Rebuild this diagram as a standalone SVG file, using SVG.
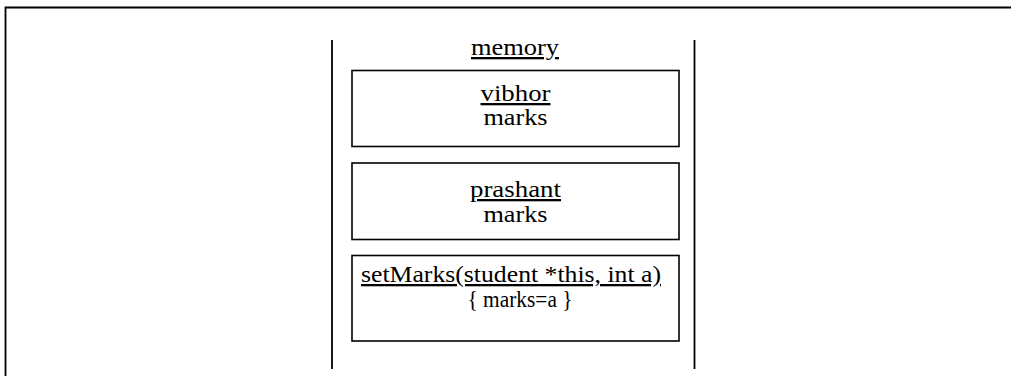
<svg xmlns="http://www.w3.org/2000/svg" width="1011" height="376" viewBox="0 0 1011 376">
<style>
.t{font-family:"Liberation Serif","Times New Roman",serif;font-size:23px;fill:#000;text-anchor:middle}
.u{text-decoration:underline}
.box{fill:#fff;stroke:#000;stroke-width:1.6}
.ln{stroke:#000;stroke-width:1.8;fill:none}
</style>
<rect width="1011" height="376" fill="#fff"/>
<g id="frame">
<path class="ln" d="M5.5 376 V7.5 H1011" stroke-width="2.2"/>
</g>
<g id="memory">
<line class="ln" x1="332" y1="40" x2="332" y2="369"/>
<line class="ln" x1="694.5" y1="40" x2="694.5" y2="369"/>
<text class="t u" x="515" y="55" textLength="88" lengthAdjust="spacingAndGlyphs">memory</text>
</g>
<g id="vibhor">
<rect class="box" x="352" y="70.5" width="327" height="76"/>
<text class="t u" x="515.5" y="101" textLength="70" lengthAdjust="spacingAndGlyphs">vibhor</text>
<text class="t" x="515.5" y="125" textLength="64" lengthAdjust="spacingAndGlyphs">marks</text>
</g>
<g id="prashant">
<rect class="box" x="352" y="163" width="327" height="76.5"/>
<text class="t u" x="515.5" y="197" textLength="91" lengthAdjust="spacingAndGlyphs">prashant</text>
<text class="t" x="515.5" y="222" textLength="64" lengthAdjust="spacingAndGlyphs">marks</text>
</g>
<g id="setMarks">
<rect class="box" x="352" y="255.5" width="327" height="85.5"/>
<text class="t u" x="511" y="282" textLength="300" lengthAdjust="spacingAndGlyphs">setMarks(student *this, int a)</text>
<text class="t" x="520" y="307" textLength="105" lengthAdjust="spacingAndGlyphs">{ marks=a }</text>
</g>
<g id="connectors"></g>
</svg>
